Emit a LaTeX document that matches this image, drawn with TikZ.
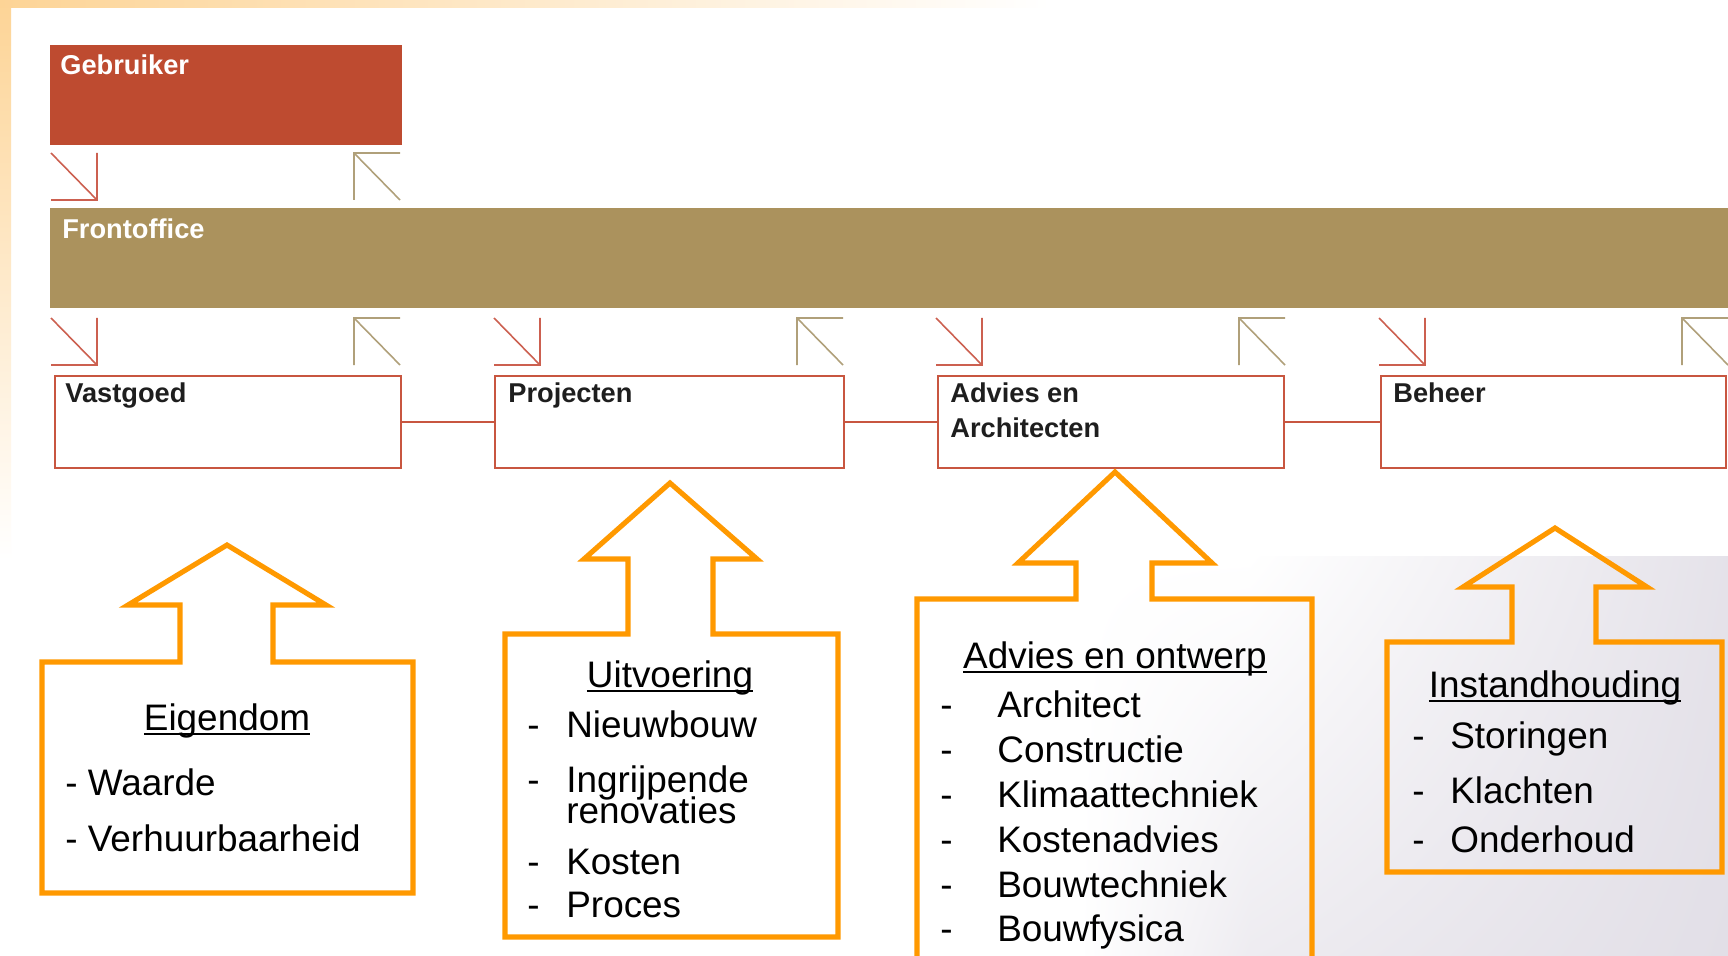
\documentclass[tikz,border=0pt]{standalone}
\usepackage{fontspec}
\setmainfont{Liberation Sans}
\usepackage{tikz}
\usetikzlibrary{positioning, shadings}
\definecolor{cGebr}{RGB}{190,75,48}
\definecolor{cFront}{RGB}{171,146,93}
\definecolor{cRand}{RGB}{200,86,64}
\definecolor{cPijlIn}{RGB}{204,96,80}
\definecolor{cPijlUit}{RGB}{176,160,122}
\definecolor{cOranje}{RGB}{255,153,0}
\definecolor{cPerzik}{RGB}{253,212,150}
\definecolor{cGrijs}{RGB}{226,223,231}
\definecolor{cTekst}{RGB}{30,30,30}

\newcommand{\onderstreep}[1]{\sbox0{#1}\rlap{\rule[-0.13em]{\wd0}{0.055em}}\usebox0}

\tikzset{
  vlak/.style={anchor=north west, inner sep=0pt, outer sep=0pt},
  blok/.style={vlak, draw=cRand, line width=1.2pt},
  lijn/.style={draw=cRand, line width=1.2pt},
  kop/.style={text=white, font=\fontsize{15.5}{18}\selectfont\bfseries, anchor=base west, inner sep=0pt},
  kopzwart/.style={kop, text=cTekst},
  pijlin/.style={draw=cPijlIn, line width=0.9pt},
  pijluit/.style={draw=cPijlUit, line width=0.9pt},
  callout/.style={draw=cOranje, line width=2.9pt, line join=miter},
  titel/.style={font=\fontsize{21}{25}\selectfont, anchor=base, inner sep=0pt},
  punt/.style={font=\fontsize{21}{25}\selectfont, anchor=base west, inner sep=0pt},
  naarbinnen/.pic={\draw[pijlin] (0,0) -- (46,47) (46,0) -- (46,47) -- (0,47);},
  naarbuiten/.pic={\draw[pijluit] (46,47) -- (0,0) (0,47) -- (0,0) -- (46,0);}
}

\begin{document}
\begin{tikzpicture}[x=0.02cm, y=-0.02cm]
    \useasboundingbox (0,0) rectangle (1728,956);
    \clip (0,0) rectangle (1728,956);

    % Achtergrond
    \fill[white] (0,0) rectangle (1728,956);
    \shade[top color=cPerzik, bottom color=white] (0,0) rectangle (11,560);
    \shade[left color=cPerzik, right color=white] (0,0) rectangle (1050,8);
    \shade[upper left=white, upper right=white, lower left=white, lower right=cGrijs!60] (1080,556) rectangle (1250,956);
    \shade[upper left=white, upper right=cGrijs!90, lower left=cGrijs!60, lower right=cGrijs] (1250,556) rectangle (1728,956);

    % Gebruiker en Frontoffice
    \node[vlak, fill=cGebr, minimum width=352*0.02cm, minimum height=100*0.02cm] (gebruiker) at (50,45) {};
    \node[kop] (gebruiker-l) at (60,75) {Gebruiker};
    \node[vlak, fill=cFront, minimum width=1680*0.02cm, minimum height=100*0.02cm] (frontoffice) at (50,208) {};
    \node[kop] (frontoffice-l) at (62,239) {Frontoffice};

    % Pijltjes
    \pic at (51,153) {naarbinnen};
    \pic at (354,153) {naarbuiten};
    \pic at (51,318) {naarbinnen};
    \pic at (354,318) {naarbuiten};
    \pic at (494,318) {naarbinnen};
    \pic at (797,318) {naarbuiten};
    \pic at (936,318) {naarbinnen};
    \pic at (1239,318) {naarbuiten};
    \pic at (1379,318) {naarbinnen};
    \pic at (1682,318) {naarbuiten};

    % Afdelingen
    \node[blok, minimum width=346*0.02cm, minimum height=92*0.02cm] (vastgoed) at (55,376) {};
    \node[blok, minimum width=349*0.02cm, minimum height=92*0.02cm] (projecten) at (495,376) {};
    \node[blok, minimum width=346*0.02cm, minimum height=92*0.02cm] (advies) at (938,376) {};
    \node[blok, minimum width=345*0.02cm, minimum height=92*0.02cm] (beheer) at (1381,376) {};
    \node[kopzwart] (vastgoed-l) at (65,402) {Vastgoed};
    \node[kopzwart] (projecten-l) at (508,402) {Projecten};
    \node[kopzwart] (advies-l1) at (950,402) {Advies en};
    \node[kopzwart] (advies-l2) at (950,437) {Architecten};
    \node[kopzwart] (beheer-l) at (1393,402) {Beheer};
    \draw[lijn] (vastgoed.east) -- (projecten.west);
    \draw[lijn] (projecten.east) -- (advies.west);
    \draw[lijn] (advies.east) -- (beheer.west);

    % Eigendom
    \draw[callout] (180,662) -- (42,662) -- (42,893) -- (413,893) -- (413,662) -- (273,662) -- (273,605)
        -- (326,605) -- (227,545) -- (128,605) -- (180,605) -- cycle;
    \node[titel] (eigendom) at (227,730) {\onderstreep{Eigendom}};
    \node[punt] (eig-1) at (65,795) {- Waarde};
    \node[punt] (eig-2) at (65,851) {- Verhuurbaarheid};

    % Uitvoering
    \draw[callout] (628,634) -- (505,634) -- (505,937) -- (838,937) -- (838,634) -- (713,634) -- (713,559)
        -- (757,559) -- (670,483) -- (584,559) -- (628,559) -- cycle;
    \node[titel] (uitvoering) at (670,687) {\onderstreep{Uitvoering}};
    \node[punt] (uit-d1) at (527,737) {-};
    \node[punt] (uit-1) at (566,737) {Nieuwbouw};
    \node[punt] (uit-d2) at (527,792) {-};
    \node[punt] (uit-2a) at (566,792) {Ingrijpende};
    \node[punt] (uit-2b) at (566,823) {renovaties};
    \node[punt] (uit-d3) at (527,874) {-};
    \node[punt] (uit-3) at (566,874) {Kosten};
    \node[punt] (uit-d4) at (527,917) {-};
    \node[punt] (uit-4) at (566,917) {Proces};

    % Advies en ontwerp
    \draw[callout] (1076,599) -- (917,599) -- (917,975) -- (1312,975) -- (1312,599) -- (1152,599) -- (1152,563)
        -- (1212,563) -- (1115,472) -- (1018,563) -- (1076,563) -- cycle;
    \node[titel] (ontwerp) at (1115,668) {\onderstreep{Advies en ontwerp}};
    \node[punt] (ont-d1) at (940,717) {-};
    \node[punt] (ont-1) at (997,717) {Architect};
    \node[punt] (ont-d2) at (940,762) {-};
    \node[punt] (ont-2) at (997,762) {Constructie};
    \node[punt] (ont-d3) at (940,807) {-};
    \node[punt] (ont-3) at (997,807) {Klimaattechniek};
    \node[punt] (ont-d4) at (940,852) {-};
    \node[punt] (ont-4) at (997,852) {Kostenadvies};
    \node[punt] (ont-d5) at (940,897) {-};
    \node[punt] (ont-5) at (997,897) {Bouwtechniek};
    \node[punt] (ont-d6) at (940,941) {-};
    \node[punt] (ont-6) at (997,941) {Bouwfysica};

    % Instandhouding
    \draw[callout] (1512,642) -- (1387,642) -- (1387,872) -- (1722,872) -- (1722,642) -- (1596,642) -- (1596,587)
        -- (1647,587) -- (1555,528) -- (1463,587) -- (1512,587) -- cycle;
    \node[titel] (instandhouding) at (1555,697) {\onderstreep{Instandhouding}};
    \node[punt] (ins-d1) at (1412,748) {-};
    \node[punt] (ins-1) at (1450,748) {Storingen};
    \node[punt] (ins-d2) at (1412,803) {-};
    \node[punt] (ins-2) at (1450,803) {Klachten};
    \node[punt] (ins-d3) at (1412,852) {-};
    \node[punt] (ins-3) at (1450,852) {Onderhoud};
\end{tikzpicture}
\end{document}
